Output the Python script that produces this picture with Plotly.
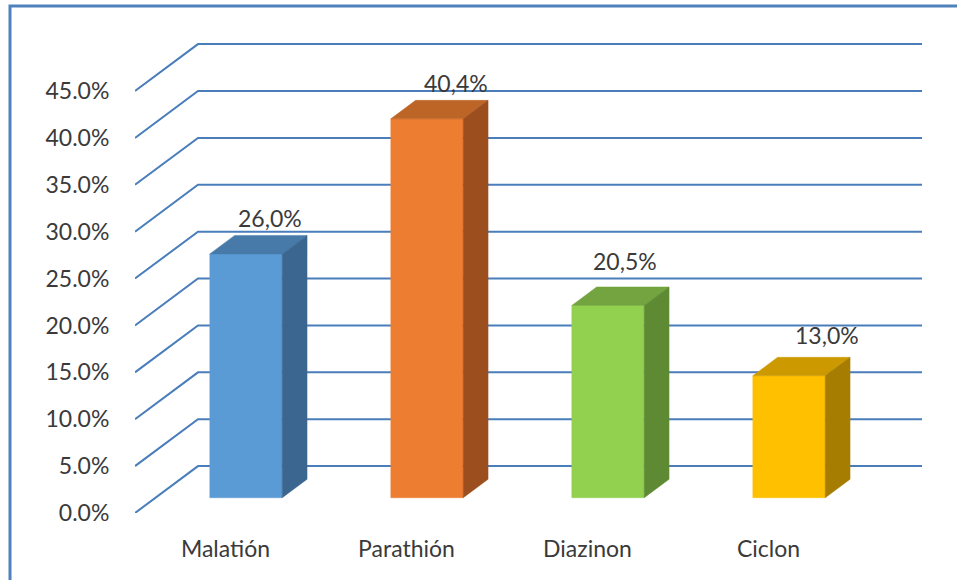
import plotly.graph_objects as go

# Data
categories = ["Malatión", "Parathión", "Diazinon", "Ciclon"]
values = [26.0, 40.4, 20.5, 13.0]
value_labels = ["26,0%", "40,4%", "20,5%", "13,0%"]
tick_values = [0, 5, 10, 15, 20, 25, 30, 35, 40, 45]
tick_labels = ["0.0%", "5.0%", "10.0%", "15.0%", "20.0%", "25.0%",
               "30.0%", "35.0%", "40.0%", "45.0%"]

# Colours: front, top, side for each column
front_colors = ["#5B9BD5", "#ED7D31", "#92D050", "#FFC000"]
top_colors = ["#477AA8", "#BD6427", "#73A43F", "#CC9A00"]
side_colors = ["#3A668F", "#9C4E1E", "#5E8A33", "#A67D00"]

# Oblique 3-D projection: full depth shifts by DX category units and DY value units
DX = 0.348
DY = 5.0
D_FRONT = 0.326   # depth of the column front face
D_BACK = 0.72     # depth of the column back face
HALF_W = 0.2      # half column width (category units)

# Page geometry
W, H = 957, 580
ML, MR, MT, MB = 135, 25, 35, 67
PX_PER_CAT = 181.0
PX_PER_PCT = 9.378
plot_w = W - ML - MR
plot_h = H - MT - MB
x_range = [-0.5, -0.5 + plot_w / PX_PER_CAT]
y_range = [0, plot_h / PX_PER_PCT]

grid_color = "#4A7EBB"
text_color = "#3A3A3A"
font_family = "Lato, 'Open Sans', sans-serif"

fig = go.Figure()

# Wall gridlines: diagonal on the side wall, then horizontal along the back wall
gx, gy = [], []
for v in tick_values:
    gx += [-0.5, -0.5 + DX, 3.5 + DX, None]
    gy += [v, v + DY, v + DY, None]
fig.add_trace(go.Scatter(x=gx, y=gy, mode="lines",
                         line=dict(color=grid_color, width=2),
                         hoverinfo="skip", showlegend=False))


def poly(xs, ys, color):
    fig.add_trace(go.Scatter(x=xs + [xs[0]], y=ys + [ys[0]], mode="lines",
                             fill="toself", fillcolor=color,
                             line=dict(color=color, width=0.5),
                             hoverinfo="skip", showlegend=False))


for i, v in enumerate(values):
    fx0 = i - HALF_W + D_FRONT * DX
    fx1 = i + HALF_W + D_FRONT * DX
    fy0 = D_FRONT * DY
    fy1 = v + D_FRONT * DY
    ddx = (D_BACK - D_FRONT) * DX
    ddy = (D_BACK - D_FRONT) * DY
    # front face
    poly([fx0, fx1, fx1, fx0], [fy0, fy0, fy1, fy1], front_colors[i])
    # top face
    poly([fx0, fx1, fx1 + ddx, fx0 + ddx], [fy1, fy1, fy1 + ddy, fy1 + ddy], top_colors[i])
    # side face
    poly([fx1, fx1 + ddx, fx1 + ddx, fx1], [fy0, fy0 + ddy, fy1 + ddy, fy1], side_colors[i])

# Value labels above each column (small per-label nudges in pixels)
label_xshift = [-0.5, 4.5, -7.5, 13.5]
label_yshift = [0, 0, 9, 4.5]
for i, v in enumerate(values):
    fig.add_annotation(x=i + 0.25, y=v + 5.45, text=value_labels[i],
                       showarrow=False, xanchor="center", yanchor="middle",
                       xshift=label_xshift[i], yshift=label_yshift[i],
                       font=dict(size=23, color=text_color, family=font_family))

# Outer chart border
fig.add_shape(type="rect", xref="paper", yref="paper",
              x0=(10 - ML) / plot_w, x1=(W + 5 - ML) / plot_w,
              y0=-(H + 10 - (H - MB)) / plot_h, y1=((H - MB) - 6) / plot_h,
              line=dict(color="#4F81BD", width=3), fillcolor="rgba(0,0,0,0)")

fig.update_layout(
    width=W, height=H, autosize=False,
    margin=dict(l=ML, r=MR, t=MT, b=MB, pad=0),
    paper_bgcolor="white", plot_bgcolor="white",
    showlegend=False,
    xaxis=dict(range=x_range, tickvals=list(range(len(categories))),
               ticktext=categories, showgrid=False, zeroline=False,
               showline=False, ticks="outside", ticklen=15,
               tickcolor="rgba(0,0,0,0)",
               tickfont=dict(size=23, color=text_color, family=font_family),
               fixedrange=True),
    yaxis=dict(range=y_range, tickvals=tick_values, ticktext=tick_labels,
               showgrid=False, zeroline=False, showline=False,
               ticks="outside", ticklen=20, tickcolor="rgba(0,0,0,0)",
               tickfont=dict(size=23, color=text_color, family=font_family),
               fixedrange=True),
)

fig.write_html("out.html")
